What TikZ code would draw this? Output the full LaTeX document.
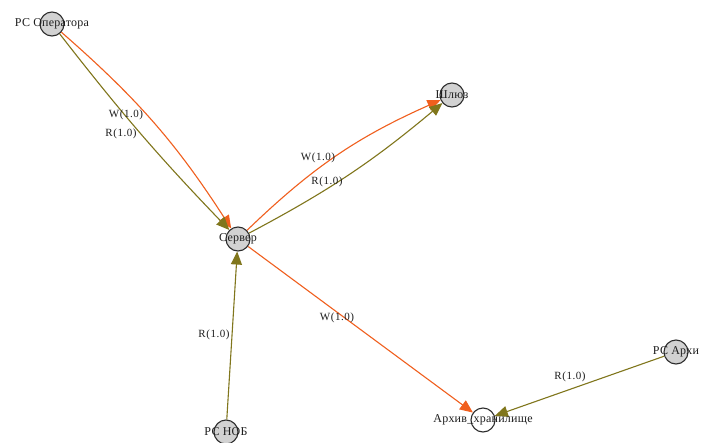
\documentclass[tikz,border=0pt]{standalone}
\usepackage{fontspec}
\setmainfont{Liberation Serif}
\usetikzlibrary{arrows.meta}
\definecolor{worange}{RGB}{240,95,30}
\definecolor{rolive}{RGB}{128,118,28}
\definecolor{nodegray}{RGB}{210,210,210}
\definecolor{nodeborder}{RGB}{45,45,45}
\definecolor{txt}{RGB}{30,30,30}
\tikzset{
  vert/.style={circle, draw=nodeborder, line width=1.1pt, fill=nodegray, minimum size=24pt, inner sep=0pt},
  vertw/.style={vert, fill=white},
  vlab/.style={font=\fontsize{12}{12}\selectfont\addfontfeatures{LetterSpace=2}, text=txt, inner sep=0pt},
  wedge/.style={draw=worange, line width=1.1pt, -{Triangle[length=13pt,width=11pt]}},
  redge/.style={draw=rolive, line width=1.1pt, -{Triangle[length=13pt,width=11pt]}},
  elab/.style={font=\fontsize{11}{11}\selectfont\addfontfeatures{LetterSpace=5}, text=txt, inner sep=0pt}
}
\begin{document}
\begin{tikzpicture}[x=1pt,y=-1pt]
\useasboundingbox (0,0) rectangle (704,442);
\fill[white] (0,0) rectangle (704,442);
% nodes
\node[vert]  (op)   at (52,24)  {};
\node[vert]  (srv)  at (238,239) {};
\node[vert]  (gw)   at (452,95) {};
\node[vert]  (nob)  at (226,432) {};
\node[vertw] (arch) at (483,420) {};
\node[vert]  (rca)  at (676,352) {};
% edges
\draw[wedge] (op) to[bend left=8] (srv);
\draw[redge] (op) to[bend right=3] (srv);
\draw[wedge] (srv) to[bend left=10] (gw);
\draw[redge] (srv) to[bend right=6] (gw);
\draw[wedge] (srv) -- (arch);
\draw[redge] (nob) -- (srv);
\draw[redge] (rca) -- (arch);
% node labels
\node[vlab] (opl)   at (op)   {РС Оператора};
\node[vlab] (srvl)  at (srv)  {Сервер};
\node[vlab] (gwl)   at (gw)   {Шлюз};
\node[vlab] (nobl)  at (nob)  {РС НОБ};
\node[vlab] (archl) at (arch) {Архив\_хранилище};
\node[vlab] (rcal)  at (rca)  {РС Архи};
% edge labels
\node[elab] (l1) at (126,115) {W(1.0)};
\node[elab] (l2) at (121,134) {R(1.0)};
\node[elab] (l3) at (318,158) {W(1.0)};
\node[elab] (l4) at (327,182) {R(1.0)};
\node[elab] (l5) at (337,318) {W(1.0)};
\node[elab] (l6) at (214,335) {R(1.0)};
\node[elab] (l7) at (570,377) {R(1.0)};
\end{tikzpicture}
\end{document}
